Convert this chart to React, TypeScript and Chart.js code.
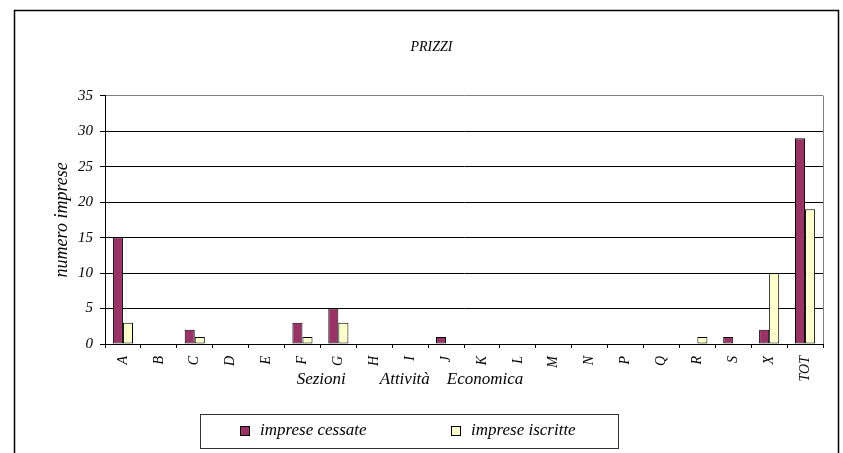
import React, { useEffect, useRef } from 'react';
import { Chart, registerables } from 'chart.js';

Chart.register(...registerables);

const CATEGORIES = ['A', 'B', 'C', 'D', 'E', 'F', 'G', 'H', 'I', 'J', 'K', 'L', 'M', 'N', 'P', 'Q', 'R', 'S', 'X', 'TOT'];
const CESSATE = [15, 0, 2, 0, 0, 3, 5, 0, 0, 1, 0, 0, 0, 0, 0, 0, 0, 1, 2, 29];
const ISCRITTE = [3, 0, 1, 0, 0, 1, 3, 0, 0, 0, 0, 0, 0, 0, 0, 0, 1, 0, 10, 19];
const SERIES_LABELS = ['imprese cessate', 'imprese iscritte'];
const SERIES_COLORS = ['#993366', '#FFFFCC'];
const Y_MIN = 0;
const Y_MAX = 35;
const Y_STEP = 5;
const TITLE = 'PRIZZI';
const X_TITLE = 'Sezioni        Attività    Economica';
const Y_TITLE = 'numero imprese';

const FAMILY = "'Liberation Serif', 'Times New Roman', serif";

const framePlugin = {
  id: 'framePlugin',
  beforeDatasetsDraw(chart: any) {
    const { ctx, chartArea } = chart;
    ctx.save();
    ctx.strokeStyle = '#808080';
    ctx.lineWidth = 1;
    ctx.beginPath();
    const x = Math.round(chartArea.right) + 0.5;
    ctx.moveTo(x, chartArea.top);
    ctx.lineTo(x, chartArea.bottom);
    ctx.stroke();
    ctx.restore();
  },
  afterDraw(chart: any) {
    const { ctx } = chart;
    ctx.save();
    // outer frame
    ctx.strokeStyle = '#000';
    ctx.lineWidth = 1.5;
    ctx.strokeRect(14.5, 10.5, 824, 470);

    // x axis caption
    ctx.fillStyle = '#000';
    ctx.font = `italic 17px ${FAMILY}`;
    ctx.textAlign = 'center';
    ctx.textBaseline = 'middle';
    ctx.fillText(X_TITLE, 410, 380);

    // legend
    const boxL = 200, boxT = 414, boxW = 418, boxH = 34;
    ctx.strokeStyle = '#333';
    ctx.lineWidth = 1;
    ctx.strokeRect(boxL + 0.5, boxT + 0.5, boxW, boxH);
    const itemX = [240, 451];
    const cy = boxT + boxH / 2;
    chart.data.datasets.forEach((ds: any, i: number) => {
      const x = itemX[i];
      ctx.fillStyle = ds.backgroundColor;
      ctx.fillRect(x, cy - 5, 10, 10);
      ctx.strokeStyle = '#000';
      ctx.strokeRect(x + 0.5, cy - 4.5, 9, 9);
      ctx.fillStyle = '#000';
      ctx.textAlign = 'left';
      ctx.textBaseline = 'middle';
      ctx.font = `italic 17px ${FAMILY}`;
      ctx.fillText(ds.label, x + 20, cy);
    });
    ctx.restore();
  },
};

export default function App() {
  const canvasRef = useRef<HTMLCanvasElement | null>(null);

  useEffect(() => {
    if (!canvasRef.current) return;
    const chart = new Chart(canvasRef.current, {
      type: 'bar',
      data: {
        labels: CATEGORIES,
        datasets: [
          {
            label: SERIES_LABELS[0],
            data: CESSATE,
            backgroundColor: SERIES_COLORS[0],
            borderColor: '#000',
            borderWidth: 1,
            borderSkipped: false,
            categoryPercentage: 0.56,
            barPercentage: 1,
          },
          {
            label: SERIES_LABELS[1],
            data: ISCRITTE,
            backgroundColor: SERIES_COLORS[1],
            borderColor: '#000',
            borderWidth: 1,
            borderSkipped: false,
            categoryPercentage: 0.56,
            barPercentage: 1,
          },
        ],
      },
      options: {
        responsive: false,
        animation: false,
        devicePixelRatio: 1,
        layout: { padding: { left: 40, right: 20, top: 0, bottom: 0 } },
        plugins: {
          legend: { display: false },
          tooltip: { enabled: false },
          title: {
            display: true,
            text: TITLE,
            color: '#000',
            font: { family: FAMILY, size: 14, style: 'italic', weight: 'normal' },
            padding: { top: 38.6, bottom: 40.3 },
          },
        },
        scales: {
          x: {
            offset: true,
            afterFit(scale: any) {
              scale.height = 109;
            },
            grid: {
              display: true,
              drawOnChartArea: false,
              drawTicks: true,
              tickLength: 4,
              color: '#000',
              tickColor: '#000',
              offset: true,
            },
            border: { display: true, color: '#000', width: 1 },
            ticks: {
              color: '#000',
              font: { family: FAMILY, size: 14, style: 'italic' },
              minRotation: 90,
              maxRotation: 90,
              autoSkip: false,
              padding: 8,
            },
          },
          y: {
            min: Y_MIN,
            max: Y_MAX,
            afterFit(scale: any) {
              scale.width = 65;
            },
            grid: {
              color: (ctx: any) => (ctx.tick && ctx.tick.value === Y_MAX ? '#808080' : '#000'),
              tickColor: '#000',
              tickLength: 5,
              lineWidth: 1,
            },
            border: { display: true, color: '#000', width: 1 },
            ticks: {
              stepSize: Y_STEP,
              color: '#000',
              padding: 7,
              font: { family: FAMILY, size: 15, style: 'italic' },
            },
            title: {
              display: true,
              text: Y_TITLE,
              color: '#000',
              font: { family: FAMILY, size: 18, style: 'italic' },
              padding: { top: 11.2, bottom: 0 },
            },
          },
        },
      },
      plugins: [framePlugin],
    } as any);
    return () => chart.destroy();
  }, []);

  return (
    <div style={{ position: 'absolute', left: 0, top: 0, width: 843, height: 453, background: '#fff' }}>
      <canvas ref={canvasRef} width={843} height={453} style={{ display: 'block' }} />
    </div>
  );
}
